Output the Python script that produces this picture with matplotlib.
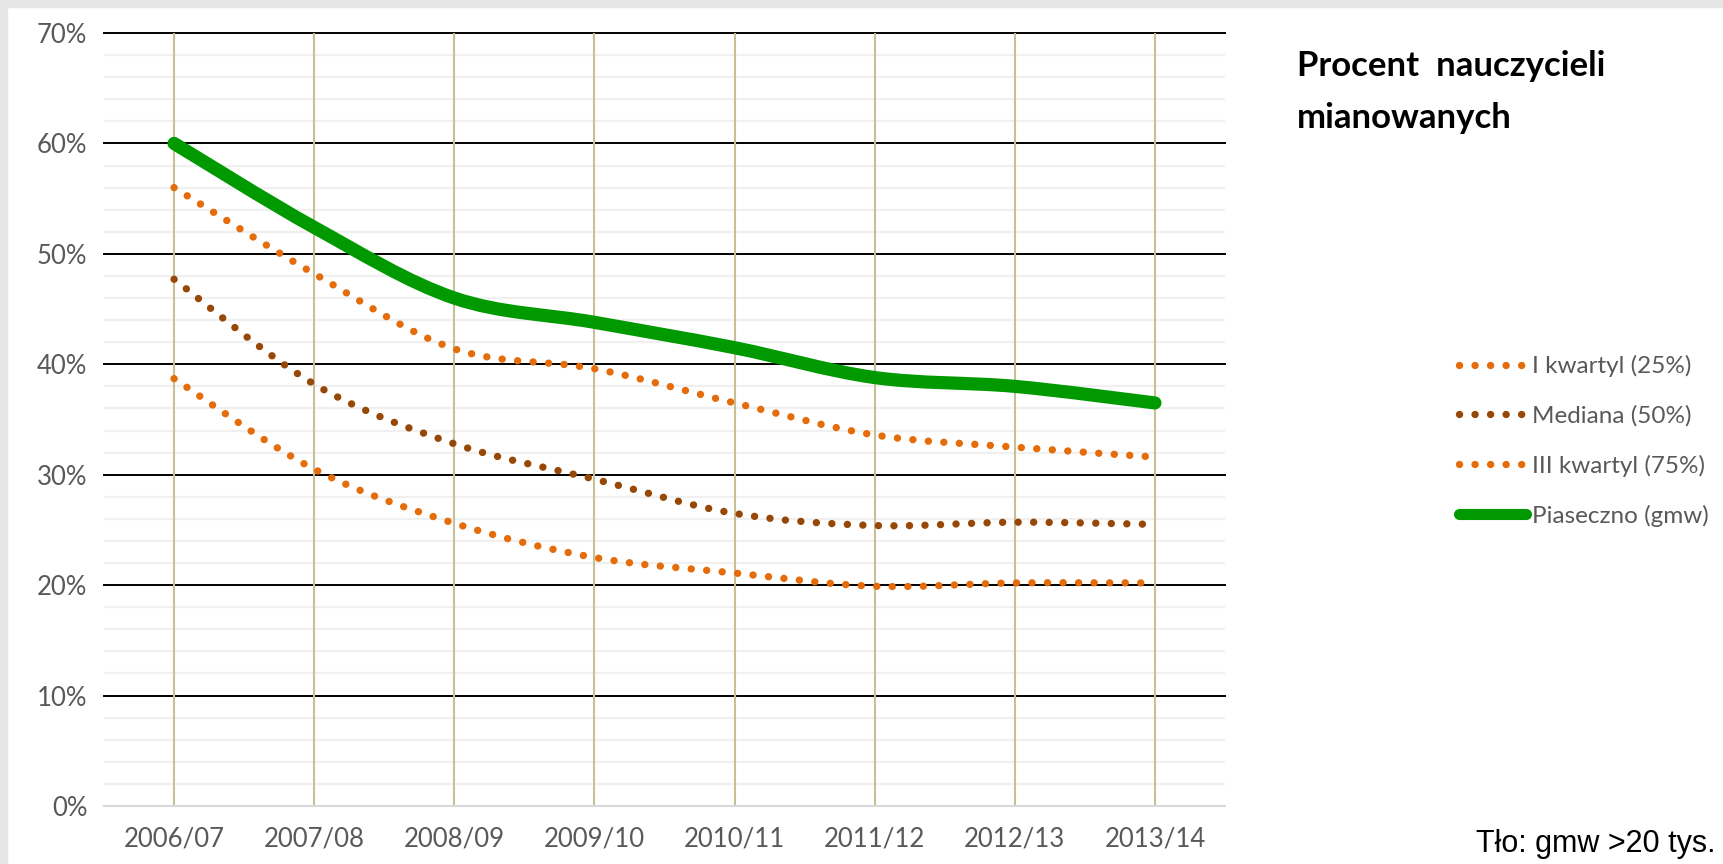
#!/usr/bin/env python3
"""Procent nauczycieli mianowanych - Piaseczno vs. quartiles (gmw >20 tys.)."""
import matplotlib

matplotlib.use("Agg")
import matplotlib.pyplot as plt
import numpy as np
from matplotlib.lines import Line2D
from matplotlib.patches import PathPatch
from matplotlib.path import Path

years = ["2006/07", "2007/08", "2008/09", "2009/10", "2010/11", "2011/12", "2012/13", "2013/14"]
q1 = [56.0, 48.2, 41.4, 39.6, 36.5, 33.6, 32.5, 31.6]
median = [47.7, 38.2, 32.8, 29.6, 26.5, 25.4, 25.7, 25.5]
q3 = [38.7, 30.5, 25.6, 22.5, 21.1, 19.9, 20.2, 20.2]
piaseczno = [60.0, 52.4, 46.0, 43.8, 41.5, 38.8, 38.0, 36.5]

labels = ["I kwartyl (25%)", "Mediana (50%)", "III kwartyl (75%)", "Piaseczno (gmw)"]

ORANGE = "#E46C0A"
BROWN = "#974806"
GREEN = "#009A00"
TICK_COLOR = "#595959"
FONT = ["Lato", "DejaVu Sans"]


def smooth_path(xs, ys):
    # Excel-like smoothed line: cubic Bezier segments through the points
    pts = np.column_stack([xs, ys]).astype(float)
    n = len(pts)
    verts = [pts[0]]
    codes = [Path.MOVETO]
    for i in range(n - 1):
        p0 = pts[i - 1] if i > 0 else pts[i]
        p1 = pts[i]
        p2 = pts[i + 1]
        p3 = pts[i + 2] if i + 2 < n else pts[i + 1]
        c1 = p1 + (p2 - p0) / 6.0
        c2 = p2 - (p3 - p1) / 6.0
        verts += [c1, c2, p2]
        codes += [Path.CURVE4] * 3
    return Path(verts, codes)


fig = plt.figure(figsize=(17.23, 8.64), dpi=100)
fig.patch.set_facecolor("white")
# thin grey frame at top/left like the source screenshot
fig.add_artist(plt.Rectangle((0, 1 - 7 / 864), 1, 7 / 864, transform=fig.transFigure,
                             color="#E6E6E6", zorder=0))
fig.add_artist(plt.Rectangle((0, 0), 7 / 1723, 1, transform=fig.transFigure,
                             color="#E6E6E6", zorder=0))

ax = fig.add_axes([104 / 1723, 58 / 864, 1121 / 1723, 773 / 864])
x = np.arange(len(years))
ax.set_xlim(-0.5, len(years) - 0.5)
ax.set_ylim(0, 70)

# gridlines
for v in np.arange(2, 70, 2):
    if v % 10:
        ax.axhline(v, color="#F0F0F0", lw=1.6, zorder=0)
for v in range(10, 71, 10):
    ax.axhline(v, color="black", lw=1.4, zorder=1, clip_on=False)
for xi in x:
    ax.axvline(xi, color="#C9BF97", lw=1.5, zorder=1)

dot_lw = 5.3
dot_style = (0, (0.01, 2.1))
series = [(q1, ORANGE), (median, BROWN), (q3, ORANGE)]
handles = []
for vals, col in series:
    patch = PathPatch(smooth_path(x, vals), fill=False, edgecolor=col, lw=dot_lw,
                      linestyle=dot_style, capstyle="round", zorder=3)
    ax.add_patch(patch)
    handles.append(Line2D([], [], color=col, lw=dot_lw, linestyle=dot_style,
                          dash_capstyle="round"))

ax.add_patch(PathPatch(smooth_path(x, piaseczno), fill=False, edgecolor=GREEN, lw=9.5,
                       capstyle="round", joinstyle="round", zorder=4))
handles.append(Line2D([], [], color=GREEN, lw=8, solid_capstyle="round"))

for side in ["top", "right", "left"]:
    ax.spines[side].set_visible(False)
ax.spines["bottom"].set_color("#D9D9D9")
ax.spines["bottom"].set_linewidth(1.5)
ax.spines["bottom"].set_zorder(2)

ax.set_xticks(x)
ax.set_xticklabels(years)
ax.set_yticks(range(0, 71, 10))
ax.set_yticklabels([f"{v}%" for v in range(0, 71, 10)])
ax.tick_params(length=0, labelsize=18.5, labelcolor=TICK_COLOR, pad=12)
ax.tick_params(axis="x", pad=15)
for lab in ax.get_xticklabels() + ax.get_yticklabels():
    lab.set_family(FONT)

fig.text(1297 / 1723, 1 - 66 / 864, "Procent  nauczycieli", fontsize=25,
         fontweight="bold", family=FONT, va="center", ha="left")
fig.text(1297 / 1723, 1 - 118 / 864, "mianowanych", fontsize=25,
         fontweight="bold", family=FONT, va="center", ha="left")

leg = fig.legend(handles, labels, loc="upper left", bbox_to_anchor=(1447 / 1723, 1 - 343 / 864),
                 frameon=False, prop={"family": FONT, "size": 17.5}, handlelength=2.75,
                 handletextpad=0.25, labelspacing=1.15, borderpad=0)
for t in leg.get_texts():
    t.set_color(TICK_COLOR)

fig.text(1716 / 1723, 1 - 844 / 864, "Tło: gmw >20 tys.", fontsize=22,
         family=["Liberation Sans", "DejaVu Sans"], ha="right", va="center")

fig.savefig("out.png", dpi=100)
